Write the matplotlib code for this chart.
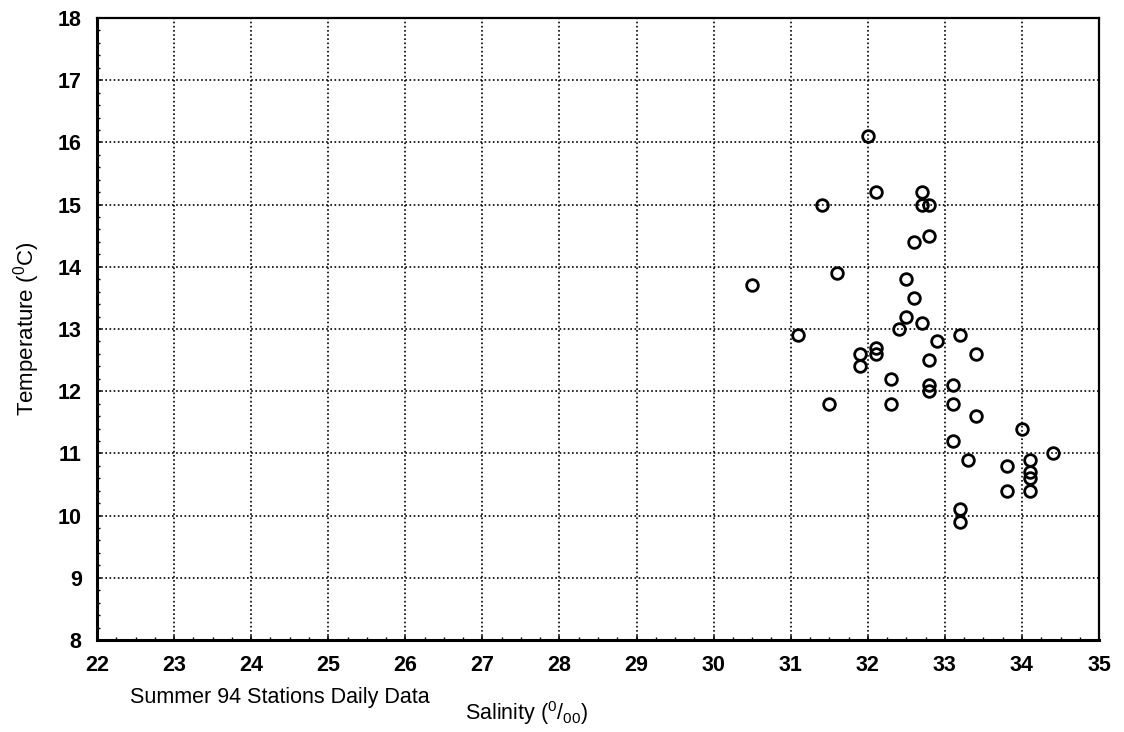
import numpy as np
import matplotlib
matplotlib.use('Agg')
import matplotlib.pyplot as plt
from matplotlib.ticker import MultipleLocator

plt.rcParams['font.family'] = ['Liberation Sans', 'DejaVu Sans']
plt.rcParams['mathtext.fontset'] = 'custom'
plt.rcParams['mathtext.rm'] = 'Liberation Sans'
plt.rcParams['mathtext.it'] = 'Liberation Sans:italic'

# Station samples: salinity (ppt) and temperature (deg C)
salinity = [32.0, 32.1, 31.4, 32.7, 32.7, 32.8, 32.8, 32.6, 31.6, 30.5,
            32.5, 32.6, 32.5, 32.7, 32.4, 31.1, 33.2, 32.9, 32.1, 32.1,
            31.9, 31.9, 33.4, 32.8, 32.3, 32.8, 32.8, 33.1, 31.5, 32.3,
            33.1, 33.4, 34.0, 33.1, 34.4, 33.3, 34.1, 33.8, 34.1, 34.1,
            33.8, 34.1, 33.2, 33.2]
temperature = [16.1, 15.2, 15.0, 15.2, 15.0, 15.0, 14.5, 14.4, 13.9, 13.7,
               13.8, 13.5, 13.2, 13.1, 13.0, 12.9, 12.9, 12.8, 12.7, 12.6,
               12.6, 12.4, 12.6, 12.5, 12.2, 12.1, 12.0, 12.1, 11.8, 11.8,
               11.8, 11.6, 11.4, 11.2, 11.0, 10.9, 10.9, 10.8, 10.7, 10.6,
               10.4, 10.4, 10.1, 9.9]

x_ticks = np.arange(22, 36, 1)
y_ticks = np.arange(8, 19, 1)

fig = plt.figure(figsize=(11.24, 7.32), dpi=100)
ax = fig.add_axes([0.0863, 0.1257, 0.8915, 0.8497])

ax.plot(salinity, temperature, 'o', markersize=8.4, markerfacecolor='none',
        markeredgecolor='black', markeredgewidth=2.0, zorder=5)

ax.set_xlim(22, 35)
ax.set_ylim(8, 18)
ax.set_xticks(x_ticks)
ax.set_yticks(y_ticks)
ax.xaxis.set_minor_locator(MultipleLocator(0.25))
ax.yaxis.set_minor_locator(MultipleLocator(0.2))
ax.tick_params(which='both', direction='in', top=False, right=False)
ax.tick_params(which='major', length=3, width=1.2, labelsize=15.5)
ax.tick_params(axis='x', which='major', pad=11)
ax.tick_params(axis='y', which='major', pad=11)
ax.tick_params(which='minor', length=2.5, width=1.0)
for lbl in ax.get_xticklabels() + ax.get_yticklabels():
    lbl.set_fontweight('bold')

# Dotted grid on major ticks
ax.grid(True, which='major', color='black', linestyle=(0, (1, 1.5)), linewidth=1.2)

for side in ['left', 'bottom']:
    ax.spines[side].set_linewidth(2.2)
for side in ['top', 'right']:
    ax.spines[side].set_linewidth(1.6)

ax.set_ylabel(r'Temperature ($^\mathrm{0}$C)', fontsize=16, labelpad=11)

fig.text(0.116, 0.04, 'Summer 94 Stations Daily Data', fontsize=15.5)
fig.text(0.414, 0.017, r'Salinity ($^\mathrm{0}$/$_\mathrm{00}$)', fontsize=15.5)

plt.savefig('out.png', dpi=100)
